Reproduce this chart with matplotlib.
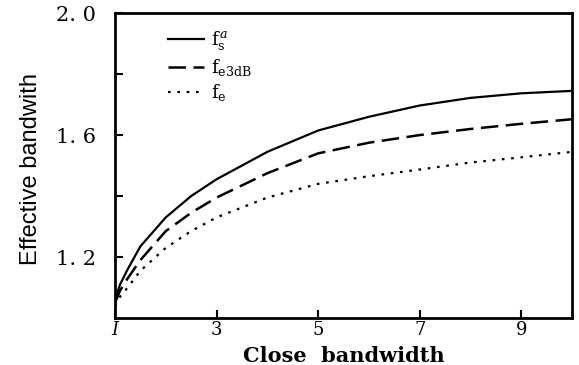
import matplotlib
matplotlib.use("Agg")
import matplotlib.pyplot as plt

plt.rcParams["mathtext.fontset"] = "dejavuserif"

# values
close_bw = [1, 1.1, 1.25, 1.5, 2, 2.5, 3, 4, 5, 6, 7, 8, 9, 10]
f_s = [1.06, 1.11, 1.16, 1.235, 1.33, 1.40, 1.455, 1.545, 1.615, 1.66, 1.697, 1.722, 1.737, 1.745]
f_e3db = [1.05, 1.09, 1.13, 1.19, 1.285, 1.345, 1.395, 1.475, 1.54, 1.575, 1.60, 1.62, 1.637, 1.652]
f_e = [1.04, 1.07, 1.10, 1.155, 1.23, 1.285, 1.33, 1.395, 1.44, 1.465, 1.487, 1.51, 1.527, 1.545]

x_ticks = [1, 3, 5, 7, 9]
x_labels = ["I", "3", "5", "7", "9"]
y_ticks = [1.2, 1.6, 2.0]
y_labels = ["1. 2", "1. 6", "2. 0"]
y_minor = [1.4, 1.8]

fig = plt.figure(figsize=(5.79, 3.65), dpi=100)
ax = fig.add_axes([0.1986, 0.1288, 0.7894, 0.8352])

ax.plot(close_bw, f_s, color="black", lw=1.6, label=r"$\mathrm{f}^{\,a}_{\mathrm{s}}$")
ax.plot(close_bw, f_e3db, color="black", lw=1.8, dashes=(7, 3), label=r"$\mathrm{f}_{\mathrm{e3dB}}$")
ax.plot(close_bw, f_e, color="black", lw=1.6, dashes=(1.2, 3), label=r"$\mathrm{f}_{\mathrm{e}}$")

ax.set_xlim(1, 10)
ax.set_ylim(1.0, 2.0)

ax.set_xticks(x_ticks)
ax.set_xticklabels(x_labels, fontsize=13, family="DejaVu Serif")
ax.get_xticklabels()[0].set_style("italic")
ax.set_yticks(y_ticks)
ax.set_yticklabels(y_labels, fontsize=15, family="DejaVu Serif")
ax.set_yticks(y_minor, minor=True)
ax.tick_params(axis="both", which="both", direction="in", length=6, width=1.5)
ax.tick_params(axis="x", pad=2)
ax.tick_params(axis="y", pad=14)

for s in ax.spines.values():
    s.set_linewidth(2)

ax.set_xlabel("Close  bandwidth", fontsize=15, family="DejaVu Serif", fontweight="bold")
ax.xaxis.set_label_coords(0.5, -0.092, transform=ax.transAxes)
ax.xaxis.label.set_va("top")
ax.set_ylabel("Effective bandwith", fontsize=17, family="Liberation Sans")
ax.yaxis.set_label_coords(-0.16, 0.49)

ax.legend(loc="upper left", bbox_to_anchor=(0.08, 1.0), frameon=False,
          handlelength=2.0, handletextpad=0.4, labelspacing=0.25,
          prop={"family": "DejaVu Serif", "size": 13})

fig.savefig("out.png", dpi=100)
